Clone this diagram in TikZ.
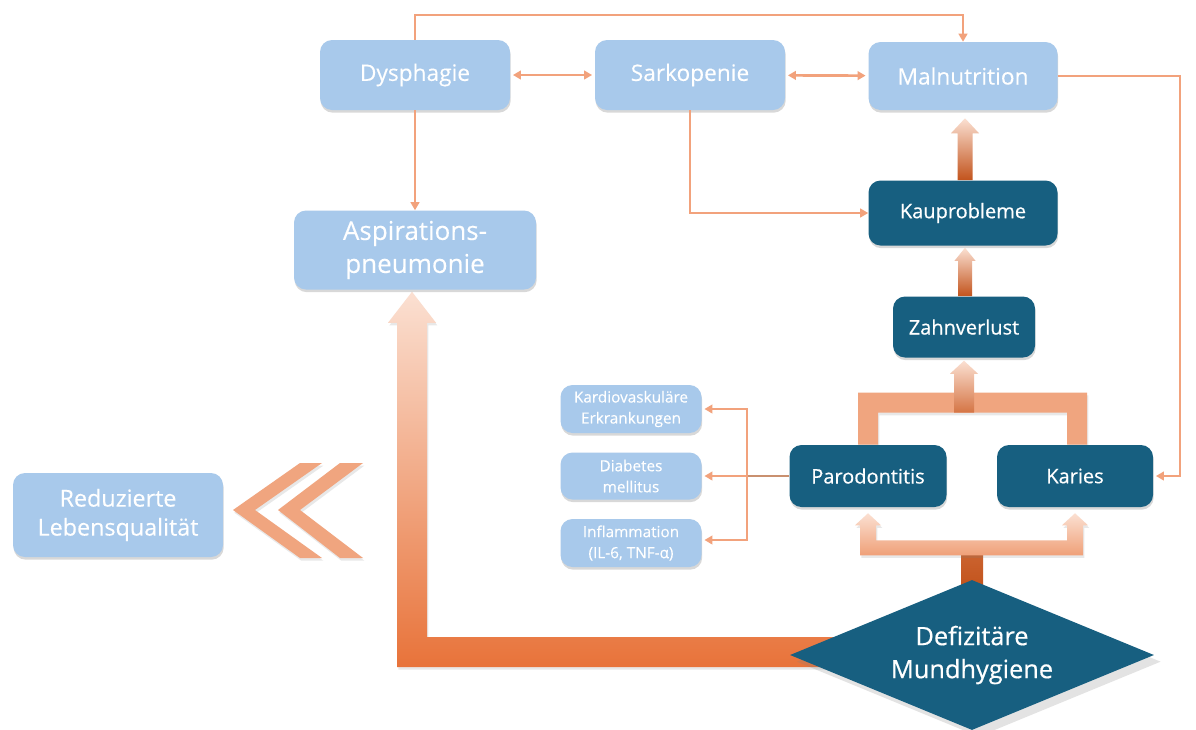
\documentclass[tikz,border=0pt]{standalone}
\usepackage{fontspec}
\setmainfont{Open Sans}
\newfontfamily\heavyfam[FakeBold=0.5]{Open Sans}
\newfontfamily\medfam[FakeBold=0.25]{Open Sans}
\usetikzlibrary{shapes.geometric,shadows,calc,arrows.meta}
\pgfdeclarelayer{background}
\pgfsetlayers{background,main}

\definecolor{boxblue}{HTML}{A8C9EB}
\definecolor{boxdark}{HTML}{175F80}
\definecolor{linkor}{HTML}{F2A27C}
\definecolor{linkdull}{HTML}{C9906F}
\definecolor{peach}{HTML}{FBE0D2}
\definecolor{salmon}{HTML}{F0A57F}
\definecolor{deepor}{HTML}{C2531C}
\definecolor{midor}{HTML}{E8733A}

% upward block arrow: #1 base, #2 tip, #3 half shaft, #4 half head, #5 head length, #6 options
\newcommand\blockup[6]{%
  \path[#6] ($(#1)+(-#3,0)$) -- ($(#2)+(-#3,#5)$) -- ($(#2)+(-#4,#5)$) -- (#2)
    -- ($(#2)+(#4,#5)$) -- ($(#2)+(#3,#5)$) -- ($(#1)+(#3,0)$) -- cycle;}

\begin{document}
\begin{tikzpicture}[x=0.75pt,y=-0.75pt,
  box/.style={rounded corners=9pt, inner sep=0pt, align=center, text=white,
    drop shadow={shadow xshift=0.5pt, shadow yshift=-2pt, opacity=0.3}},
  lightbox/.style={box, fill=boxblue},
  darkbox/.style={box, fill=boxdark},
  mainfont/.style={font=\medfam\fontsize{17}{22}\selectfont},
  darkfont/.style={font=\heavyfam\fontsize{15}{19}\selectfont},
  smallfont/.style={font=\medfam\fontsize{11.5}{15.75}\selectfont},
  link/.style={draw=linkor, line width=2pt},
  tipr/.style={-{Triangle[length=6pt,width=6.5pt]}},
  tipboth/.style={{Triangle[length=6pt,width=6.5pt]}-{Triangle[length=6pt,width=6.5pt]}},
  softshadow/.style={drop shadow={shadow xshift=1pt, shadow yshift=-2pt, opacity=0.18}}
]
\useasboundingbox (0,0) rectangle (1196,729);

% --- boxes ---
\node[lightbox, mainfont, minimum width=142.5pt, minimum height=52.5pt] (dys) at (415,75) {Dysphagie};
\node[lightbox, mainfont, minimum width=142.5pt, minimum height=52.5pt] (sar) at (690,75) {Sarkopenie};
\node[lightbox, mainfont, minimum width=141.75pt, minimum height=51pt] (mal) at (963,76) {Malnutrition};
\node[lightbox, font=\medfam\fontsize{19.5}{24.75}\selectfont, minimum width=181.5pt, minimum height=59.25pt] (asp) at (415,250) {Aspirations-\\pneumonie};
\node[darkbox, darkfont, minimum width=141.75pt, minimum height=48.75pt] (kau) at (963,213) {Kauprobleme};
\node[darkbox, darkfont, minimum width=106.5pt, minimum height=45.75pt] (zahn) at (964,327) {Zahnverlust};
\node[darkbox, darkfont, minimum width=117.75pt, minimum height=46.5pt] (paro) at (868,476) {Parodontitis};
\node[darkbox, darkfont, minimum width=117pt, minimum height=46.5pt] (kar) at (1075,476) {Karies};
\node[lightbox, smallfont, minimum width=105.75pt, minimum height=36pt] (kard) at (631,409) {Kardiovaskuläre\\Erkrankungen};
\node[lightbox, smallfont, minimum width=105.75pt, minimum height=35.25pt] (diab) at (631,476) {Diabetes\\mellitus};
\node[lightbox, smallfont, minimum width=105.75pt, minimum height=36pt] (infl) at (631,543) {Inflammation\\(IL-6, TNF-α)};
\node[lightbox, font=\medfam\fontsize{17.5}{21.75}\selectfont, minimum width=157.5pt, minimum height=63pt] (red) at (118,515) {Reduzierte\\Lebensqualität};
\node[diamond, aspect=2.4, fill=boxdark, inner sep=0pt, minimum width=273pt, minimum height=112.5pt,
  text=white, align=center, font=\heavyfam\fontsize{19}{24.75}\selectfont,
  drop shadow={shadow xshift=5pt, shadow yshift=-5pt, opacity=0.22}] (dmh) at (972,655) {Defizitäre\\Mundhygiene};

% --- block arrows behind the boxes ---
\begin{pgfonlayer}{background}
  \fill[white] (0,0) rectangle (1196,729);

  % large L-shaped arrow from the diamond to Aspirationspneumonie
  \coordinate (ltip) at ($(asp.south)+(-3,2)$);
  \path[top color=peach, bottom color=midor, softshadow]
    (ltip) -- ($(ltip)+(24,31)$) -- ($(ltip)+(15,31)$)
    -- ($(ltip |- dmh.west)+(15,-18)$) -- ($(dmh.west)+(90,-18)$)
    -- ($(dmh.west)+(90,12)$) -- ($(ltip |- dmh.west)+(-15,12)$)
    -- ($(ltip)+(-15,31)$) -- ($(ltip)+(-24,31)$) -- cycle;

  % stem from the diamond into the lower fork
  \coordinate (bb) at ($(paro.south)+(0,48)$);
  \path[top color=deepor!80!salmon, bottom color=deepor]
    ($(dmh.north |- bb)+(-11,-2)$) rectangle ($(dmh.north)+(11,8)$);

  % lower fork to Parodontitis and Karies
  \path[top color=peach, bottom color=salmon!90!midor, softshadow]
    ($(paro.south)+(0,6)$) -- ($(paro.south)+(13,18)$) -- ($(paro.south)+(8,18)$)
    -- ($(paro.south)+(8,33)$) -- ($(kar.south)+(-8,33)$) -- ($(kar.south)+(-8,18)$)
    -- ($(kar.south)+(-13,18)$) -- ($(kar.south)+(0,6)$) -- ($(kar.south)+(13,18)$)
    -- ($(kar.south)+(8,18)$) -- ($(kar.south)+(8,48)$) -- ($(paro.south)+(-8,48)$)
    -- ($(paro.south)+(-8,18)$) -- ($(paro.south)+(-13,18)$) -- cycle;

  % upper fork joining Parodontitis and Karies
  \path[fill=salmon, softshadow]
    ($(paro.north)+(-10,0)$) -- ($(paro.north)+(-10,-52)$) -- ($(kar.north)+(12,-52)$)
    -- ($(kar.north)+(12,0)$) -- ($(kar.north)+(-8,0)$) -- ($(kar.north)+(-8,-32)$)
    -- ($(paro.north)+(10,-32)$) -- ($(paro.north)+(10,0)$) -- cycle;
\end{pgfonlayer}

% upward arrows in the right column
\coordinate (zb) at ($(zahn.south |- paro.north)+(0,-32)$);
\coordinate (zt) at ($(zahn.south)+(0,3)$);
\blockup{zb}{zt}{10}{14}{13}{top color=peach, bottom color=deepor!60!salmon}
\coordinate (kzt) at ($(kau.south)+(2,2)$);
\coordinate (kzb) at (kzt |- zahn.north);
\blockup{kzb}{kzt}{7}{10.5}{13}{top color=peach, bottom color=deepor}
\coordinate (kmt) at ($(mal.south)+(2,8)$);
\coordinate (kmb) at (kmt |- kau.north);
\blockup{kmb}{kmt}{7.5}{14}{15}{top color=peach, bottom color=deepor}

% double chevron pointing to Reduzierte Lebensqualität
\path[fill=salmon, softshadow] (233,510) -- (300,463) -- (322,463) -- (255,510) -- (322,558) -- (300,558) -- cycle;
\path[fill=salmon, softshadow] (278,510) -- (340,463) -- (363,463) -- (300,510) -- (363,558) -- (340,558) -- cycle;

% --- thin connectors ---
\coordinate (topline) at (690,15);
\draw[link, tipr] (dys.north) |- (topline) -| (mal.north);
\draw[link, tipboth, shorten <=2pt, shorten >=2pt] (dys) -- (sar);
\draw[link, tipboth, shorten <=2pt, shorten >=2pt] (sar) -- (mal);
\coordinate (rightline) at (1180,300);
\draw[link, tipr, shorten >=2pt] (mal.east) -| (rightline) |- (kar.east);
\draw[link, tipr] (sar.south) |- (kau.west);
\draw[link, tipr] (dys.south) -- (asp.north);
\coordinate (branch) at (747,476);
\draw[draw=linkdull, line width=2pt] (paro.west) -- (branch);
\draw[link, tipr, shorten >=2pt] (branch) |- (kard.east);
\draw[link, tipr, shorten >=2pt] (branch) -- (diab.east);
\draw[link, tipr, shorten >=2pt] (branch) |- ($(infl.east)+(0,-3)$);
\end{tikzpicture}
\end{document}
